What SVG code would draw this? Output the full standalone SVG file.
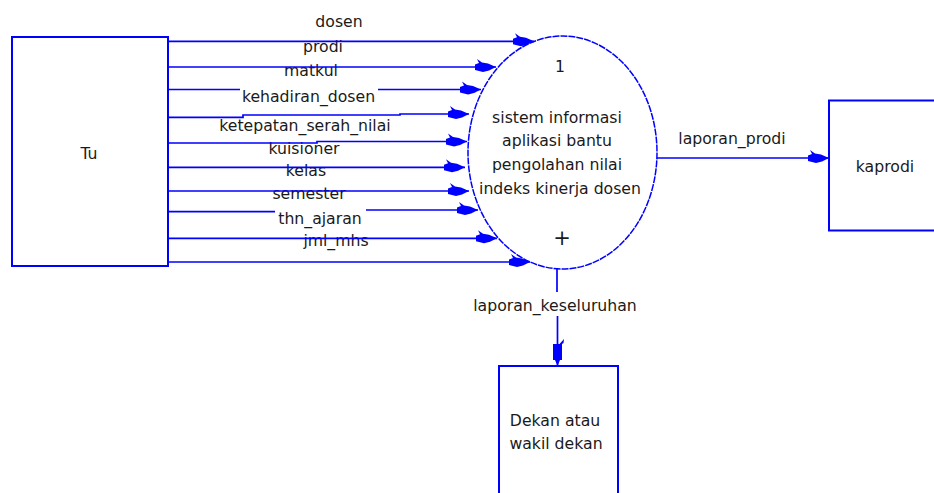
<svg xmlns="http://www.w3.org/2000/svg" width="934" height="493" viewBox="0 0 934 493">
<style>
.box{fill:#fff;stroke:#0000ff;stroke-width:2}
.proc{fill:#fff;stroke:#0000ff;stroke-width:1.5;stroke-dasharray:7 1}
.t{font-family:"DejaVu Sans",Verdana,sans-serif;font-size:15.7px;fill:#1a1a1a;text-anchor:middle}
.c{fill:none;stroke:#0000ff;stroke-width:1.7}
.r{marker-end:url(#arrR)}
.d{marker-end:url(#arrD)}
</style>
<defs>
<marker id="arrR" markerUnits="userSpaceOnUse" markerWidth="30" markerHeight="30" refX="0" refY="0" orient="auto" overflow="visible">
<path d="M0,0 L-8,-3.5 L-14,-4.5 L-19,-8 L-17,-4 L-21,-2.5 L-21,3 L-13,5 L-7,3.5 Z" fill="#0000ff"/>
</marker>
<marker id="arrD" markerUnits="userSpaceOnUse" markerWidth="30" markerHeight="30" refX="0" refY="0" orient="auto" overflow="visible">
<path d="M0,0 L-6,-2.5 L-6,-4.5 L-22,-4.5 L-23,-6 L-27,-6.5 L-22,-2 L-22,4.5 L-6,4.5 L-6,2.5 Z" fill="#0000ff"/>
</marker>
</defs>
<rect width="934" height="493" fill="#fff"/>

<g id="node-tu">
<rect class="box" x="12" y="37" width="156" height="229"/>
<text class="t" x="89" y="159">Tu</text>
</g>

<g id="node-process">
<ellipse class="proc" cx="562.5" cy="152.5" rx="94.5" ry="116.5"/>
<text class="t" x="560" y="72">1</text>
<text class="t" x="557" y="122.5">sistem informasi</text>
<text class="t" x="557" y="146">aplikasi bantu</text>
<text class="t" x="557" y="170">pengolahan nilai</text>
<text class="t" x="560" y="194">indeks kinerja dosen</text>
<text class="t" x="562" y="245" style="font-size:21px">+</text>
</g>

<g id="node-kaprodi">
<rect class="box" x="829" y="100.5" width="140" height="130"/>
<text class="t" x="885" y="172">kaprodi</text>
</g>

<g id="node-dekan">
<rect class="box" x="499" y="366" width="119" height="150"/>
<text class="t" x="555" y="426">Dekan atau</text>
<text class="t" x="556" y="449">wakil dekan</text>
</g>

<g id="connector-labels">
<text class="t" x="339" y="27">dosen</text>
<text class="t" x="323" y="52">prodi</text>
<text class="t" x="311" y="76">matkul</text>
<text class="t" x="308.5" y="102">kehadiran_dosen</text>
<text class="t" x="305" y="130.5">ketepatan_serah_nilai</text>
<text class="t" x="304" y="153.5">kuisioner</text>
<text class="t" x="306" y="176">kelas</text>
<text class="t" x="309" y="198.5">semester</text>
<text class="t" x="320" y="224">thn_ajaran</text>
<text class="t" x="336" y="246">jml_mhs</text>
<text class="t" x="732" y="144">laporan_prodi</text>
<text class="t" x="555" y="310.5">laporan_keseluruhan</text>
</g>

<g id="connectors">
<path class="c r" d="M168,41.3 L534,41.3"/>
<path class="c r" d="M168,67 L496,67"/>
<path class="c r" d="M168,89.5 L240,89.5 M378,89.5 L481,89.5"/>
<path class="c r" d="M168,117.3 L243,117.3 L243,115 L400,115 L400,114 L469,114"/>
<path class="c r" d="M168,143 L317,143 L317,141.5 L467,141.5"/>
<path class="c r" d="M168,167.3 L465,167.3"/>
<path class="c r" d="M168,191 L469,191"/>
<path class="c r" d="M168,211.7 L275,211.7 M366,210 L478,210"/>
<path class="c r" d="M168,238.3 L497,238.3"/>
<path class="c r" d="M168,262 L530,262"/>
<path class="c r" d="M657,158 L829,158"/>
<path class="c d" d="M557,269 L557,292 M557.5,316 L557.5,366"/>
</g>
</svg>
